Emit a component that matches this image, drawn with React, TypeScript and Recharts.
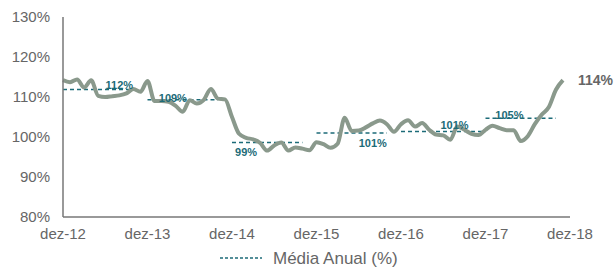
import React from 'react';
import {
  ComposedChart,
  Line,
  XAxis,
  YAxis,
  ReferenceLine,
  ReferenceDot,
  Legend,
  LabelList,
} from 'recharts';

// monthly index, dez-12 .. nov-18
const monthlyValues = [
  114.2, 113.7, 114.4, 112.4, 114.2, 110.3, 110.0, 110.2, 110.4, 110.9, 112.0, 111.3,
  114.0, 109.0, 109.0, 108.8, 107.8, 106.3, 109.2, 108.4, 109.3, 112.0, 109.6, 109.4,
  105.0, 100.8, 99.8, 99.4, 98.5, 96.6, 97.9, 98.6, 96.6, 97.4, 97.1, 96.7,
  98.7, 98.2, 97.3, 98.3, 104.8, 101.5, 101.6, 102.4, 103.4, 104.1, 103.2, 101.3,
  103.2, 104.2, 102.6, 103.5, 101.8, 100.6, 100.4, 99.3, 102.6, 101.8, 100.8, 100.5,
  101.8, 102.8, 102.2, 101.7, 101.7, 99.0, 100.2, 103.2, 105.6, 107.5, 111.8, 114.2,
];

const xTickLabels = ['dez-12', 'dez-13', 'dez-14', 'dez-15', 'dez-16', 'dez-17', 'dez-18'];
const yTicks = [80, 90, 100, 110, 120, 130];

// annual averages (dashed segments)
const annualAvg = [111.9, 109.3, 98.6, 101.0, 101.4, 104.7];
const avgStart = [0, 12, 24, 36, 48, 60];
const avgEnd = [10, 22, 34, 46, 60, 70];

// label placement per segment: month offset from start, vertical shift in px
const labelPlace = [
  { dx: 8, dy: -4.5 },
  { dx: 3.6, dy: -2 },
  { dx: 2, dy: 9 },
  { dx: 8, dy: 10 },
  { dx: 7.6, dy: -6.5 },
  { dx: 3.4, dy: -3.5 },
];

const chartData = monthlyValues.map((v, i) => ({ i, value: v }));

const LINE_COLOR = '#8a998c';
const AVG_COLOR = '#1c6b78';
const TEXT_COLOR = '#666';
const FONT = 'Arial, "Liberation Sans", sans-serif';

function AvgLegend() {
  return (
    <div style={{ position: 'relative', width: 614, height: 23, fontFamily: FONT }}>
      <svg width={50} height={23} style={{ position: 'absolute', left: 218, top: 0 }}>
        <line x1={2} y1={11} x2={44} y2={11} stroke={AVG_COLOR} strokeWidth={1.5} strokeDasharray="3 2" />
      </svg>
      <span
        style={{
          position: 'absolute',
          left: 273,
          top: 2,
          fontSize: 17,
          color: TEXT_COLOR,
          lineHeight: '20px',
          whiteSpace: 'nowrap',
        }}
      >
        Média Anual (%)
      </span>
    </div>
  );
}

export default function App() {
  const last = monthlyValues.length - 1;
  return (
    <div style={{ position: 'absolute', left: 0, top: 0, width: 614, height: 270, background: '#fff' }}>
      <ComposedChart
        width={614}
        height={270}
        data={chartData}
        margin={{ top: 17, right: 44, bottom: 0, left: 0 }}
      >
        <XAxis
          dataKey="i"
          type="number"
          domain={[0, 72]}
          ticks={[0, 12, 24, 36, 48, 60, 72]}
          tickFormatter={(v: number) => xTickLabels[v / 12]}
          tick={{ fill: TEXT_COLOR, fontSize: 15, fontFamily: FONT }}
          tickLine={false}
          tickSize={0}
          tickMargin={11}
          height={30}
          axisLine={{ stroke: '#777', strokeWidth: 1.5 }}
        />
        <YAxis
          type="number"
          domain={[80, 130]}
          ticks={yTicks}
          tickFormatter={(v: number) => `${v}%`}
          tick={{ fill: TEXT_COLOR, fontSize: 15, fontFamily: FONT }}
          tickLine={false}
          tickSize={0}
          tickMargin={13}
          width={63}
          axisLine={{ stroke: '#777', strokeWidth: 1.5 }}
        />
        <Legend verticalAlign="bottom" height={23} content={() => <AvgLegend />} wrapperStyle={{ left: 0, width: 614 }} />
        {annualAvg.map((v, k) => (
          <ReferenceLine
            key={`avg-${k}`}
            segment={[
              { x: avgStart[k], y: v },
              { x: avgEnd[k], y: v },
            ]}
            stroke={AVG_COLOR}
            strokeWidth={1.5}
            strokeDasharray="4 3"
          />
        ))}
        <Line
          type="monotone"
          dataKey="value"
          stroke={LINE_COLOR}
          strokeWidth={4}
          dot={false}
          activeDot={false}
          isAnimationActive={false}
        >
          <LabelList
            dataKey="value"
            content={(p: any) =>
              p.index === last ? (
                <text
                  x={p.x + 15}
                  y={p.y}
                  dominantBaseline="central"
                  fill={TEXT_COLOR}
                  fontSize={14}
                  fontWeight="bold"
                  fontFamily={FONT}
                >
                  {`${Math.round(p.value)}%`}
                </text>
              ) : null
            }
          />
        </Line>
        {annualAvg.map((v, k) => (
          <ReferenceDot
            key={`lbl-${k}`}
            x={avgStart[k] + labelPlace[k].dx}
            y={v}
            r={0}
            shape={(p: any) => (
              <text
                x={p.cx}
                y={p.cy + labelPlace[k].dy}
                textAnchor="middle"
                dominantBaseline="central"
                fill={AVG_COLOR}
                fontSize={11}
                fontWeight="bold"
                fontFamily={FONT}
              >
                {`${Math.round(v)}%`}
              </text>
            )}
          />
        ))}
      </ComposedChart>
    </div>
  );
}
